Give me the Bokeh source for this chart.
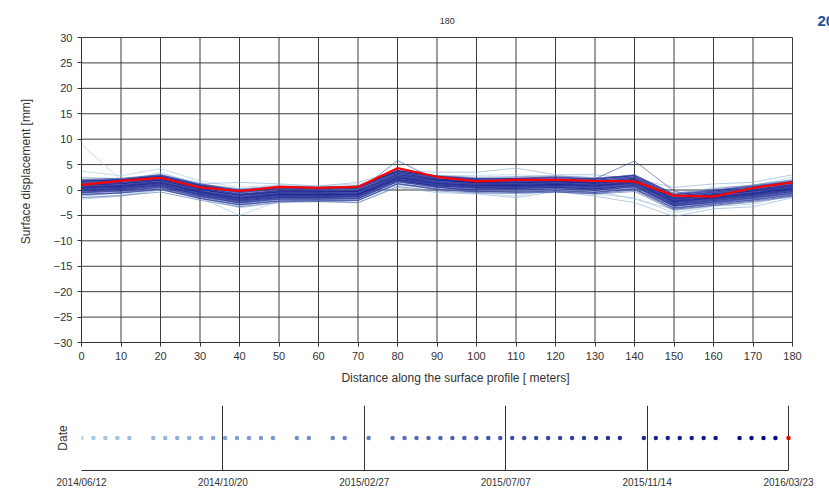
from datetime import datetime, timedelta
from bokeh.plotting import figure
from bokeh.models import FixedTicker, DatetimeTickFormatter, Range1d
from bokeh.core.properties import value
from bokeh.layouts import column
from bokeh.embed import file_html
from bokeh.resources import INLINE

# ---------------- data ----------------
distance = [0, 10, 20, 30, 40, 50, 60, 70, 80, 90, 100, 110, 120, 130, 140, 150, 160, 170, 180]
y_ticks = [-30, -25, -20, -15, -10, -5, 0, 5, 10, 15, 20, 25, 30]

dates = [
    "2014-06-12", "2014-06-23", "2014-07-04", "2014-07-15", "2014-07-26",
    "2014-08-17", "2014-08-28", "2014-09-08", "2014-09-19", "2014-09-30",
    "2014-10-11", "2014-10-22", "2014-11-02", "2014-11-13", "2014-11-24",
    "2014-12-05", "2014-12-27", "2015-01-07", "2015-01-29", "2015-02-09",
    "2015-03-03", "2015-03-25", "2015-04-05", "2015-04-16", "2015-04-27",
    "2015-05-08", "2015-05-19", "2015-05-30", "2015-06-10", "2015-06-21",
    "2015-07-02", "2015-07-13", "2015-07-24", "2015-08-04", "2015-08-15",
    "2015-08-26", "2015-09-06", "2015-09-17", "2015-09-28", "2015-10-09",
    "2015-10-20", "2015-11-11", "2015-11-22", "2015-12-03", "2015-12-14",
    "2015-12-25", "2016-01-05", "2016-01-16", "2016-02-07", "2016-02-18",
    "2016-02-29", "2016-03-11", "2016-03-23",
]

# one displacement profile [mm] per acquisition date (all but the latest)
profiles = [
    [9.0, 2.0, 3.2, 1.5, -1.0, -0.5, -0.3, 0.5, 2.8, 2.0, 1.8, 1.5, 1.9, 1.2, 0.8, -1.8, -0.5, 0.2, 1.0],
    [3.7, 2.8, 4.2, 1.8, 0.5, 1.0, 0.8, 1.2, 3.2, 2.8, 2.9, 3.0, 2.6, 2.5, 1.0, -2.5, -0.2, 0.9, 2.5],
    [-1.5, -1.0, 0.2, -1.5, -5.0, -2.2, -1.8, -2.0, 1.0, 0.2, -0.5, -1.2, 0.2, -0.8, -1.5, -4.5, -3.2, -2.8, -1.0],
    [1.8, 1.5, 3.5, 0.8, -0.5, 0.5, 0.2, 0.6, 3.0, 2.5, 2.2, 2.5, 2.0, 2.0, 1.5, -1.0, 0.5, 0.8, 2.0],
    [-0.8, 0.5, 1.0, -1.2, -3.2, -1.8, -1.5, -1.5, 1.8, 0.8, 0.2, 0.0, 0.5, -0.2, -1.8, -3.8, -2.5, -1.8, -0.5],
    [0.2, 1.0, 2.0, 0.5, -0.8, -0.5, -0.2, 0.1, 2.5, 1.8, 1.5, 1.2, 1.5, 1.5, 0.5, -1.5, -1.0, -0.8, 0.8],
    [1.0, 0.3, 1.8, -0.2, -2.5, -1.2, -1.0, -0.8, 2.0, 1.2, 0.8, 0.5, 1.0, 0.5, 0.0, -2.8, -1.8, -1.2, 0.2],
    [-1.8, -1.2, 0.0, -1.5, -3.5, -2.5, -2.0, -2.5, 0.5, -0.5, -0.8, -1.5, -0.3, -1.2, -2.5, -5.2, -3.7, -3.3, -1.5],
    [2.5, 2.2, 2.8, 1.2, 1.5, 1.2, 0.8, 1.5, 3.8, 3.5, 3.5, 4.3, 3.0, 3.0, 2.2, 0.5, 1.2, 1.5, 3.0],
    [0.5, 0.8, 2.2, -0.5, -2.0, -1.0, -1.2, -1.0, 2.2, 1.5, 0.8, 0.8, 1.2, 0.6, 0.8, -2.8, -1.8, -1.0, 0.0],
    [-0.5, 0.2, 1.2, -0.8, -2.8, -1.5, -1.5, -1.2, 1.5, 0.8, 0.5, 0.3, 0.8, 0.2, 0.2, -3.2, -2.2, -1.5, -0.3],
    [1.2, 1.5, 2.5, 0.2, -1.2, -0.2, -0.5, 0.0, 3.0, 2.0, 1.5, 1.8, 1.8, 1.5, 2.0, -1.5, -0.8, 0.0, 1.2],
    [0.0, 0.5, 1.5, -0.5, -1.8, -1.0, -0.8, -0.5, 2.5, 1.5, 1.0, 0.8, 1.2, 1.0, 1.2, -2.0, -1.5, -0.8, 0.5],
    [-1.2, -0.5, 0.8, -1.0, -2.5, -1.5, -1.8, -1.8, 1.2, 0.5, 0.0, 0.2, 0.5, 0.0, 0.5, -3.0, -2.5, -2.0, -0.8],
    [1.5, 1.2, 2.2, 0.2, -1.5, -0.5, -0.5, -0.3, 2.8, 1.8, 1.2, 1.2, 1.5, 1.2, 1.8, -2.0, -1.0, -0.3, 0.8],
    [0.8, 0.8, 1.8, -0.3, -2.0, -0.8, -1.0, -0.8, 2.4, 1.2, 1.0, 0.8, 1.0, 0.8, 1.2, -2.5, -1.5, -0.8, 0.3],
    [2.0, 2.2, 2.8, 1.0, 0.0, 0.5, 0.3, 0.5, 3.5, 2.3, 1.5, 1.4, 1.6, 1.2, 2.0, -1.8, -1.0, -0.2, 0.8],
    [-1.0, -0.6, 0.2, -1.6, -3.0, -2.2, -2.0, -2.0, 1.2, 0.2, -0.3, -0.2, 0.0, -0.4, 0.3, -3.5, -2.6, -1.8, -0.8],
    [1.3, 1.6, 2.3, 0.5, -0.8, -0.1, -0.3, -0.3, 2.8, 1.2, 0.5, 0.3, 0.5, 0.1, 0.8, -3.0, -2.2, -1.4, -0.4],
    [-0.3, 0.0, 0.7, -1.1, -2.3, -1.6, -1.4, -1.2, 2.4, 2.0, 1.9, 2.0, 2.2, 1.9, 2.5, -1.2, -0.4, 0.4, 1.4],
    [1.8, 2.0, 3.0, 1.2, 0.2, 0.8, 0.6, 0.8, 3.6, 2.8, 2.5, 2.6, 2.8, 2.4, 2.8, -0.6, 0.2, 1.0, 2.0],
    [-1.5, -1.1, -0.4, -2.0, -3.3, -2.4, -2.3, -2.5, 0.7, -0.2, -0.6, -0.7, -0.4, -0.8, -0.3, -4.0, -3.1, -2.4, -1.3],
    [0.8, 1.0, 1.9, 0.0, -1.1, -0.5, -0.5, -0.4, 2.9, 1.8, 1.3, 1.3, 1.5, 1.2, 1.9, -1.9, -1.1, -0.3, 0.7],
    [0.1, 0.4, 1.1, -0.7, -1.9, -1.2, -1.2, -1.1, 2.2, 1.1, 0.6, 0.6, 0.8, 0.5, 1.2, -2.6, -1.8, -1.0, 0.0],
    [1.6, 1.9, 2.6, 0.8, -0.4, 0.3, 0.2, 0.3, 3.4, 2.0, 1.2, 0.8, 0.8, 0.2, 0.8, -3.2, -2.5, -1.7, -0.7],
    [-0.6, -0.3, 0.4, -1.4, -2.6, -1.9, -1.8, -1.7, 1.7, 0.9, 0.8, 1.2, 1.6, 1.5, 2.4, -1.3, -0.6, 0.2, 1.2],
    [0.5, 0.8, 1.5, -0.3, -1.5, -0.8, -0.8, -0.7, 2.6, 1.5, 1.0, 1.0, 1.2, 0.9, 1.6, -2.2, -1.4, -0.6, 0.4],
    [1.8, 2.1, 2.7, 1.0, -0.2, 0.5, 0.4, 0.6, 3.9, 2.8, 2.3, 2.3, 2.5, 2.2, 2.9, -0.9, -0.1, 0.7, 1.7],
    [-0.8, -0.5, 0.2, -1.6, -2.8, -2.1, -2.1, -2.0, 1.3, 0.2, -0.3, -0.3, -0.1, -0.4, 0.3, -3.5, -2.7, -1.9, -0.9],
    [0.9, 1.2, 2.0, 0.1, -1.0, -0.4, -0.4, -0.3, 5.8, 2.0, 1.4, 1.5, 1.6, 1.3, 2.0, -1.8, -1.0, -0.2, 0.8],
    [0.0, 0.3, 1.0, -0.8, -2.0, -1.3, -1.2, -1.2, 2.1, 1.0, 0.5, 0.6, 0.8, 2.2, 5.7, -0.2, -1.8, -1.0, 0.0],
    [1.1, 1.4, 2.1, 0.3, -0.9, -0.2, -0.2, -0.1, 3.2, 2.1, 1.6, 1.6, 1.8, 1.5, 2.2, -1.6, -0.8, 0.0, 1.0],
    [-0.1, 0.2, 0.9, -0.9, -2.1, -1.4, -1.4, -1.3, 2.0, 0.9, 0.4, 0.4, 0.6, 0.3, 1.0, -2.8, -2.0, -1.2, -0.2],
    [2.1, 2.3, 3.0, 1.2, 0.0, 0.6, 0.5, 0.6, 3.6, 2.2, 1.4, 1.1, 1.2, 0.9, 1.6, -2.2, -1.4, -0.6, 0.4],
    [0.5, 0.8, 1.5, -0.3, -1.5, -0.8, -0.8, -0.8, 2.0, 0.6, -0.2, -0.5, -0.4, -0.7, 0.0, -3.8, -3.0, -2.2, -1.2],
    [1.4, 1.7, 2.4, 0.6, -0.6, 0.1, 0.1, 0.2, 3.5, 2.4, 1.9, 1.9, 2.1, 1.8, 2.5, -1.3, -0.5, 0.3, 1.3],
    [-0.4, -0.1, 0.6, -1.2, -2.4, -1.7, -1.7, -1.6, 1.7, 0.6, 0.1, 0.1, 0.3, 0.0, 0.7, -3.1, -2.3, -1.5, -0.5],
    [0.7, 1.0, 1.7, -0.1, -1.3, -0.6, -0.6, -0.5, 2.8, 1.7, 1.2, 1.2, 1.4, 1.1, 1.8, -2.0, -1.2, -0.4, 0.6],
    [0.3, 0.6, 1.3, -0.5, -1.7, -1.0, -1.0, -0.9, 2.4, 1.3, 0.8, 0.8, 1.0, 0.7, 1.4, -2.4, -1.6, -0.8, 0.2],
    [1.9, 2.0, 2.9, 1.0, 0.0, 0.6, 0.5, 0.8, 3.8, 2.6, 2.1, 2.3, 2.6, 2.2, 3.0, -0.8, 0.0, 0.8, 1.8],
    [-0.9, -0.6, 0.1, -1.7, -2.9, -2.2, -2.2, -2.1, 1.2, 0.1, -0.4, -0.4, -0.2, -0.5, 0.2, -3.6, -2.8, -2.0, -1.0],
    [1.0, 1.3, 2.0, 0.2, -1.0, -0.3, -0.3, -0.2, 3.1, 2.0, 1.5, 1.5, 1.7, 1.4, 2.1, -1.7, -0.9, -0.1, 0.9],
    [0.0, 0.3, 1.0, -0.8, -2.0, -1.3, -1.3, -1.2, 2.1, 1.0, 0.5, 0.5, 0.7, 0.4, 1.1, -2.7, -1.9, -1.1, -0.1],
    [1.5, 1.8, 2.5, 0.7, -0.5, 0.2, 0.2, 0.3, 3.6, 2.5, 2.0, 2.0, 2.2, 1.9, 2.6, -1.2, -0.4, 0.4, 1.4],
    [-0.5, -0.2, 0.5, -1.3, -2.5, -1.8, -1.8, -1.7, 1.6, 0.5, 0.0, 0.0, 0.2, -0.1, 0.6, -3.2, -2.4, -1.6, -0.6],
    [0.6, 0.9, 1.6, -0.2, -1.4, -0.7, -0.7, -0.6, 2.7, 1.6, 1.1, 1.1, 1.3, 1.0, 1.7, -2.1, -1.3, -0.5, 0.5],
    [0.2, 0.5, 1.2, -0.6, -1.8, -1.1, -1.1, -1.0, 2.3, 1.2, 0.7, 0.7, 0.9, 0.6, 1.3, -2.5, -1.7, -0.9, 0.1],
    [1.2, 1.5, 2.2, 0.4, -0.8, -0.1, -0.1, 0.0, 3.3, 2.2, 1.7, 1.7, 1.9, 1.6, 2.3, -1.5, -0.7, 0.1, 1.1],
    [-0.2, 0.1, 0.8, -1.0, -2.2, -1.5, -1.5, -1.4, 1.9, 0.8, 0.3, 0.3, 0.5, 0.2, 0.9, -2.9, -2.1, -1.3, -0.3],
    [0.9, 1.2, 1.9, 0.1, -1.1, -0.4, -0.4, -0.3, 3.0, 1.9, 1.4, 1.4, 1.6, 1.3, 2.0, -1.8, -1.0, -0.2, 0.8],
    [0.4, 0.7, 1.4, -0.4, -1.6, -0.9, -0.9, -0.8, 2.5, 1.4, 0.9, 0.9, 1.1, 0.8, 1.5, -2.3, -1.5, -0.7, 0.3],
    [1.7, 2.0, 2.7, 0.9, -0.3, 0.4, 0.4, 0.5, 3.8, 2.7, 2.2, 2.2, 2.4, 2.1, 2.8, -1.0, -0.2, 0.6, 1.6],
]

# latest acquisition (drawn in red)
latest = [1.0, 1.8, 2.4, 0.5, -0.2, 0.6, 0.4, 0.6, 4.3, 2.6, 1.7, 2.0, 2.0, 1.8, 1.7, -1.1, -1.3, 0.4, 1.5]

time_ticks = ["2014-06-12", "2014-10-20", "2015-02-27", "2015-07-07", "2015-11-14", "2016-03-23"]
current_label = "2016/03/23"
point_label = "180"

# ---------------- styling helpers ----------------
FONT = "Liberation Sans"
TXT = "#333333"
GRID = "#3c3c3c"
t_start = datetime.strptime(time_ticks[0], "%Y-%m-%d")
t_end = datetime.strptime(time_ticks[-1], "%Y-%m-%d")
dts = [datetime.strptime(d, "%Y-%m-%d") for d in dates]
span = (t_end - t_start).total_seconds()


def ramp(dt):
    f = (dt - t_start).total_seconds() / span
    c0 = (166, 206, 227)
    c1 = (0, 0, 128)
    r, g, b = (int(round(a + (bb - a) * f)) for a, bb in zip(c0, c1))
    return "#%02x%02x%02x" % (r, g, b)


colors = [ramp(d) for d in dts[:-1]] + ["#ff0000"]

# layout constants (pixels)
W = 829
LEFT = 81                 # frame left
PLOT_RIGHT = 792          # where x = 180 sits
PLOT_TOP = 37             # where y = 30 sits
PLOT_BOTTOM = 342         # where y = -30 sits
TOP_H = 390

x0, x1 = distance[0], distance[-1]
y0, y1 = y_ticks[0], y_ticks[-1]
xpx = (PLOT_RIGHT - LEFT) / (x1 - x0)
ypx = (PLOT_BOTTOM - PLOT_TOP) / (y1 - y0)
x_end = x1 + (W - PLOT_RIGHT) / xpx
y_end = y1 + PLOT_TOP / ypx

# ---------------- top chart ----------------
p = figure(width=W, height=TOP_H, x_range=Range1d(x0, x_end), y_range=Range1d(y0, y_end),
           output_backend="svg", toolbar_location=None, title=None,
           min_border_left=LEFT, min_border_right=0, min_border_top=0,
           min_border_bottom=TOP_H - PLOT_BOTTOM)
p.grid.visible = False
p.outline_line_color = None

# grid lines restricted to the data box
p.segment(x0=distance, y0=[y0] * len(distance), x1=distance, y1=[y1] * len(distance),
          line_color=GRID, line_width=1)
p.segment(x0=[x0] * len(y_ticks), y0=y_ticks, x1=[x1] * len(y_ticks), y1=y_ticks,
          line_color=GRID, line_width=1)

for prof, col in zip(profiles, colors[:-1]):
    p.line(distance, prof, line_color=col, line_width=1, line_alpha=0.65)
p.line(distance, latest, line_color="#ff0000", line_width=2.2)

p.xaxis.ticker = FixedTicker(ticks=distance)
p.yaxis.ticker = FixedTicker(ticks=y_ticks)
p.xaxis.bounds = (x0, x1)
p.yaxis.bounds = (y0, y1)

for ax in (p.xaxis[0], p.yaxis[0]):
    ax.axis_line_color = "#333333"
    ax.major_tick_line_color = "#333333"
    ax.major_tick_out = 4
    ax.major_tick_in = 0
    ax.minor_tick_line_color = None
    ax.major_label_text_font = FONT
    ax.major_label_text_font_size = "11px"
    ax.major_label_text_color = TXT
    ax.axis_label_text_font = FONT
    ax.axis_label_text_font_size = "12px"
    ax.axis_label_text_font_style = "normal"
    ax.axis_label_text_color = TXT
    ax.major_label_standoff = 5

p.xaxis.axis_label = "Distance along the surface profile [ meters]"
p.yaxis.axis_label = "Surface displacement [mm]"
p.xaxis.axis_label_standoff = 8
p.yaxis.axis_label_standoff = 18

# header texts inside the (extended) frame
text_y = y1 + (PLOT_TOP - 20) / ypx
p.text(x=[x0 + (446.7 - LEFT) / xpx], y=[text_y], text=[point_label],
       text_font=value(FONT), text_font_size="9px", text_color=TXT,
       text_align="center", text_baseline="middle")
p.text(x=[x0 + (817 - LEFT) / xpx], y=[text_y], text=[current_label],
       text_font=value(FONT), text_font_size="15px", text_font_style="bold",
       text_color="#1f4e9a", text_align="left", text_baseline="middle")

# ---------------- bottom timeline ----------------
TL_H = 100
TL_RIGHT = 788            # where 2016/03/23 sits
day_px = (TL_RIGHT - LEFT) / ((t_end - t_start).total_seconds() / 86400)
t_far = t_end + timedelta(days=(W - TL_RIGHT) / day_px)

q = figure(width=W, height=TL_H, x_axis_type="datetime",
           x_range=Range1d(t_start, t_far), y_range=Range1d(0, 1),
           output_backend="svg", toolbar_location=None,
           min_border_left=LEFT, min_border_right=0, min_border_top=15, min_border_bottom=20)

q.scatter(dts, [0.5] * len(dts), size=4.5, fill_color=colors, line_color=None)

q.xaxis.ticker = FixedTicker(ticks=[datetime.strptime(t, "%Y-%m-%d").timestamp() * 1000 for t in time_ticks])
q.xaxis.bounds = (t_start, t_end)
fmt = "%Y/%m/%d"
q.xaxis.formatter = DatetimeTickFormatter(milliseconds=fmt, seconds=fmt, minsec=fmt, minutes=fmt,
                                          hourmin=fmt, hours=fmt, days=fmt, months=fmt, years=fmt)
q.xaxis.major_label_text_font = FONT
q.xaxis.major_label_text_font_size = "10px"
q.xaxis.major_label_text_color = TXT
q.xaxis.major_tick_line_color = None
q.xaxis.major_tick_out = 0
q.xaxis.minor_tick_line_color = None
q.xaxis.axis_line_color = "#333333"
q.xaxis.major_label_standoff = 6
q.xgrid.grid_line_color = "#333333"
q.xgrid.grid_line_alpha = 1
q.ygrid.visible = False
q.outline_line_color = None

q.yaxis.ticker = FixedTicker(ticks=[])
q.yaxis.axis_line_color = None
q.yaxis.major_tick_line_color = None
q.yaxis.minor_tick_line_color = None
q.yaxis.major_tick_out = 0
q.yaxis.major_label_standoff = 0
q.yaxis.axis_label = "Date"
q.yaxis.axis_label_text_font = FONT
q.yaxis.axis_label_text_font_size = "12px"
q.yaxis.axis_label_text_font_style = "normal"
q.yaxis.axis_label_text_color = TXT
q.yaxis.axis_label_standoff = 12

layout = column(p, q)
open("out.html", "w").write(file_html(layout, INLINE))
